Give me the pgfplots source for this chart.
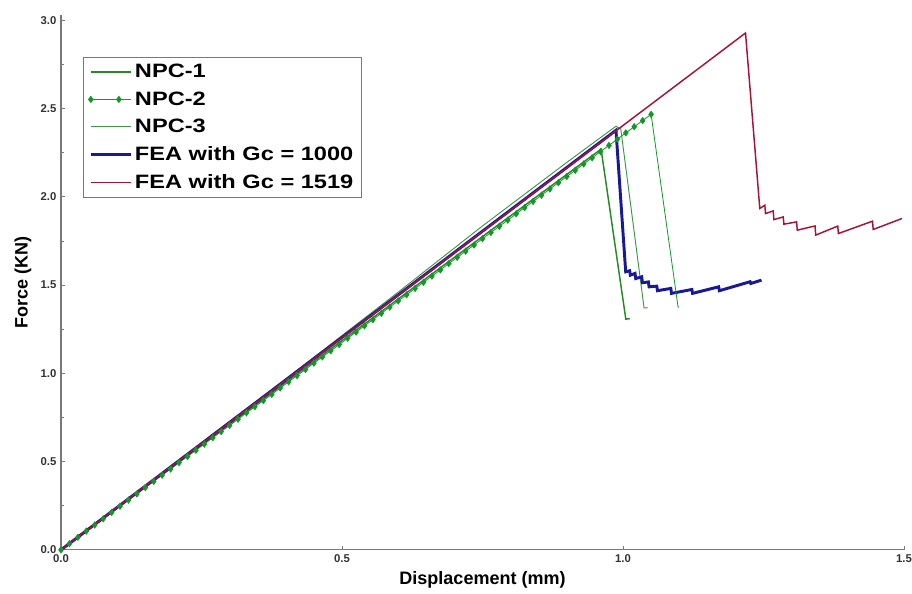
\documentclass[border=0pt]{standalone}
\usepackage{fontspec}
\setmainfont{Liberation Sans}
\newfontfamily\legfont[FakeStretch=1.22]{Liberation Sans}
\usepackage{pgfplots}
\pgfplotsset{compat=1.18}
\usetikzlibrary{calc}
\definecolor{npcA}{RGB}{34,139,34}
\definecolor{npcB}{RGB}{20,150,40}
\definecolor{npcC}{RGB}{60,150,70}
\definecolor{feaBlue}{RGB}{25,25,150}
\definecolor{feaRed}{RGB}{165,20,55}
\definecolor{axGray}{RGB}{120,120,120}

\begin{document}
\begin{tikzpicture}
\begin{axis}[
    name=ax,
    scale only axis,
    width=632pt, height=401pt,
    xmin=0, xmax=1.5, ymin=0, ymax=3.03,
    axis x line*=bottom, axis y line*=left,
    xtick={0,0.5,1,1.5},
    ytick={0,0.5,1,1.5,2,2.5,3},
    minor y tick num=1,
    axis line style={axGray, line width=0.9pt},
    tick style={axGray, line width=0.6pt},
    major tick length=3pt, minor tick length=2pt,
    ticklabel style={font=\fontsize{8.5}{10}\selectfont\bfseries, text=black!80},
    /pgf/number format/fixed,
    /pgf/number format/fixed zerofill,
    /pgf/number format/precision=1,
    /pgf/number format/assume math mode=true,
    xlabel={Displacement (mm)},
    ylabel={Force (KN)},
    label style={font=\fontsize{13.5}{16}\selectfont\bfseries},
    legend style={
        at={(0.026,0.921)}, anchor=north west,
        draw=axGray, fill=white,
        font=\legfont\fontsize{14.5}{17}\selectfont\bfseries,
        row sep=5pt, inner xsep=4pt, inner ysep=3pt,
        cells={anchor=west},
    },
    legend image code/.code={
        \path (0pt,0pt) -- (30pt,0pt);
        \draw[#1, mark repeat=1] plot coordinates {(0pt,0pt) (21pt,0pt)};
    },
]
% NPC-1
\addplot[npcA, line width=1.1pt] coordinates {
    (0,0) (0.25,0.595) (0.5,1.185) (0.75,1.775) (0.961,2.27)
    (1.005,1.307) (1.012,1.31)
};
\addlegendentry{NPC-1}
% NPC-2 (rising part with markers)
\addplot[npcB, line width=0.6pt, mark=diamond*, mark size=2.3pt] table {
x y
0.000 0.000
0.015 0.035
0.030 0.071
0.045 0.106
0.060 0.141
0.075 0.176
0.090 0.212
0.105 0.247
0.120 0.282
0.135 0.317
0.150 0.353
0.165 0.388
0.180 0.423
0.195 0.458
0.210 0.494
0.225 0.529
0.240 0.564
0.255 0.599
0.270 0.635
0.285 0.670
0.300 0.705
0.315 0.740
0.330 0.776
0.345 0.811
0.360 0.846
0.375 0.881
0.390 0.917
0.405 0.952
0.420 0.987
0.435 1.022
0.450 1.058
0.465 1.093
0.480 1.128
0.495 1.163
0.510 1.199
0.525 1.234
0.540 1.269
0.555 1.304
0.570 1.340
0.585 1.375
0.600 1.410
0.615 1.445
0.630 1.481
0.645 1.516
0.660 1.551
0.675 1.586
0.690 1.622
0.705 1.657
0.720 1.692
0.735 1.727
0.750 1.763
0.765 1.798
0.780 1.833
0.795 1.868
0.810 1.904
0.825 1.939
0.840 1.974
0.855 2.009
0.870 2.045
0.885 2.080
0.900 2.115
0.915 2.150
0.930 2.186
0.945 2.221
0.960 2.256
0.975 2.291
0.990 2.327
1.005 2.362
1.020 2.397
1.035 2.432
1.050 2.467
};
\addlegendentry{NPC-2}
% NPC-3
\addplot[npcC, line width=0.7pt] coordinates {
    (0,0) (0.3,0.722) (0.6,1.46) (0.75,1.835) (0.9,2.195) (0.9875,2.40)
    (0.996,2.385) (1.0375,1.37) (1.044,1.372)
};
\addlegendentry{NPC-3}
% FEA Gc = 1000
\addplot[feaBlue, line width=2.2pt] coordinates {
    (0,0) (0.9875,2.377) (1.0048,1.575) (1.0119,1.581) (1.0131,1.556)
    (1.0214,1.566) (1.0226,1.537) (1.0333,1.547) (1.0345,1.513)
    (1.0452,1.518) (1.0464,1.490) (1.0601,1.494) (1.0613,1.468)
    (1.0851,1.481) (1.0863,1.453) (1.1226,1.475) (1.1238,1.453)
    (1.1702,1.490) (1.1714,1.468) (1.2262,1.519) (1.2274,1.509)
    (1.2464,1.528)
};
\addlegendentry{FEA with Gc = 1000}
% FEA Gc = 1519
\addplot[feaRed, line width=1.1pt] coordinates {
    (0,0) (1.218,2.928) (1.2434,1.934) (1.2524,1.952) (1.2536,1.905)
    (1.2673,1.920) (1.2685,1.871) (1.2851,1.886) (1.2863,1.845)
    (1.3089,1.858) (1.3101,1.811) (1.3417,1.835) (1.3429,1.783)
    (1.3821,1.834) (1.3833,1.792) (1.4440,1.862) (1.4452,1.815)
    (1.4964,1.877)
};
\addlegendentry{FEA with Gc = 1519}
% NPC-2 drop (no markers)
\addplot[npcB, line width=0.6pt, forget plot] coordinates {
    (1.050,2.467) (1.098,1.375) (1.100,1.376)
};
\end{axis}
\pgfresetboundingbox
\path ($(ax.south west)+(-45.75pt,-33pt)$) rectangle ($(ax.north east)+(6pt,11.25pt)$);
\end{tikzpicture}
\end{document}
